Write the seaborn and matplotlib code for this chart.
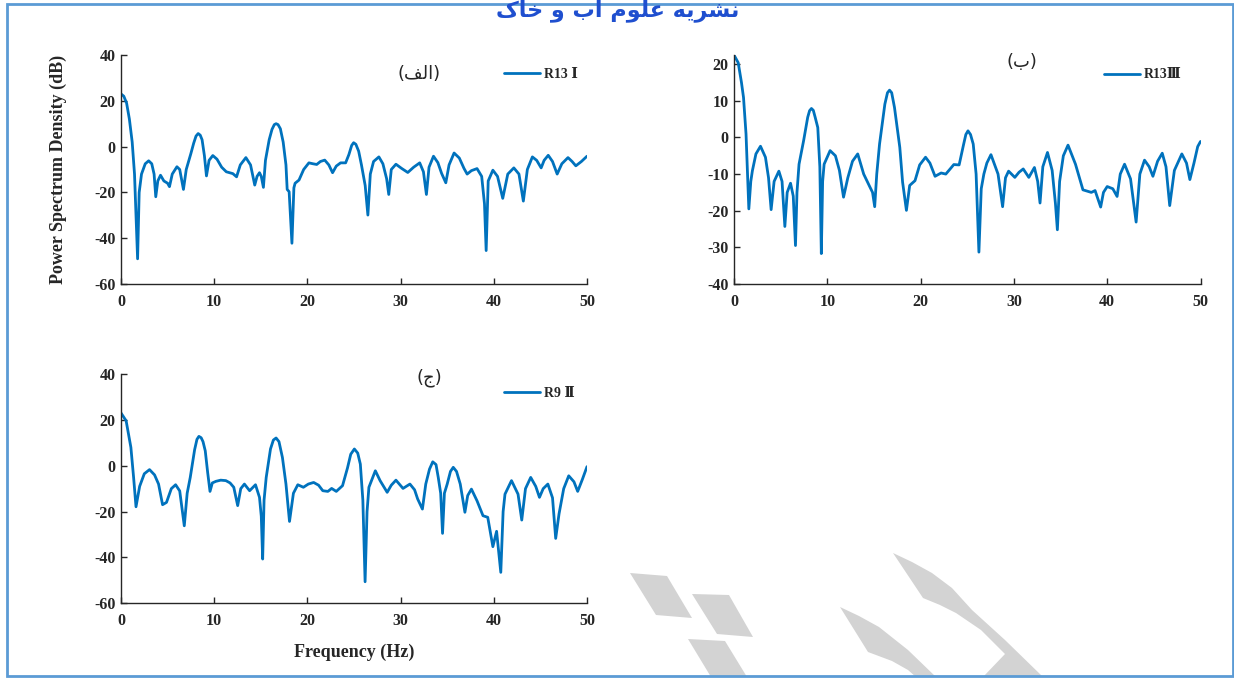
import numpy as np
import pandas as pd
import seaborn as sns
import matplotlib
matplotlib.use('Agg')
import matplotlib.pyplot as plt
from matplotlib.font_manager import FontProperties
from matplotlib.patches import Polygon, Rectangle

# Panel (a) - R13 I
freq_a = [0, 0.3, 0.6, 0.9, 1.2, 1.45, 1.78, 1.95, 2.2, 2.6, 2.97, 3.3, 3.55, 3.73,
          3.95, 4.24, 4.6, 5.0, 5.2, 5.5, 6.0, 6.3, 6.7, 7.0, 7.5, 7.8, 8.05, 8.28,
          8.5, 8.7, 8.95, 9.17, 9.45, 9.85, 10.3, 10.8, 11.3, 12.0, 12.4, 12.8,
          13.4, 13.9, 14.35, 14.6, 14.86, 15.05, 15.28, 15.5, 15.9, 16.2, 16.45,
          16.64, 16.85, 17.1, 17.4, 17.7, 17.83, 18.04, 18.34, 18.55, 18.68, 19.1,
          19.6, 20.16, 20.6, 21.0, 21.4, 21.86, 22.3, 22.7, 23.1, 23.56, 24.1,
          24.45, 24.75, 24.96, 25.2, 25.5, 25.8, 26.2, 26.49, 26.75, 27.1, 27.67,
          28.1, 28.5, 28.73, 29.0, 29.5, 30.1, 30.77, 31.4, 32.05, 32.45, 32.77,
          33.05, 33.53, 34.0, 34.4, 34.85, 35.2, 35.74, 36.3, 36.8, 37.14, 37.6,
          38.2, 38.7, 39.0, 39.18, 39.4, 39.9, 40.4, 40.96, 41.5, 42.15, 42.7,
          43.17, 43.6, 44.14, 44.6, 45.08, 45.4, 45.84, 46.3, 46.8, 47.3, 47.96,
          48.4, 48.8, 49.4, 50]
psd_a = [23, 22, 19, 12, 2, -12, -49, -20, -12, -7.5, -6.2, -7.5, -12, -21.9,
         -15, -12.5, -15, -16, -17.5, -12, -8.8, -10, -18.7, -10, -3, 1.5, 4.6, 5.7,
         5.0, 3.0, -4, -12.8, -6, -3.9, -5.5, -9, -11, -11.8, -13.2, -8,
         -4.8, -8, -16.8, -13, -11.4, -13, -17.8, -6, 3, 7.5, 9.6,
         10, 9.6, 7.8, 2, -8, -18.7, -19.7, -42.2, -18, -16, -14.6,
         -10, -7.1, -7.5, -7.8, -6.5, -5.9, -8, -11.4, -8.5, -7.1, -7.1,
         -3.5, 0.5, 1.7, 1.0, -2, -8, -17, -29.9, -12, -6.5, -4.5,
         -7.5, -14, -20.9, -10, -7.7, -9.5, -11.3, -9, -7.1, -11, -20.9,
         -9, -4.2, -7, -11.7, -15.8, -8, -2.8, -5, -9.5, -12, -10.5,
         -9.6, -13, -25, -45.4, -15, -10.3, -13, -22.6, -12, -9.3, -12,
         -23.8, -10, -4.5, -6, -9.3, -6, -3.8, -6.5, -12, -7.5, -4.8,
         -6.5, -8.4, -6.5, -4.2]

# Panel (b) - R13 III
freq_b = [0, 0.45, 0.8, 1.02, 1.29, 1.59, 1.8, 1.97, 2.35, 2.84, 3.37, 3.7, 3.98,
          4.3, 4.81, 5.15, 5.45, 5.7, 6.06, 6.35, 6.59, 6.75, 6.97, 7.46, 7.9,
          8.1, 8.3, 8.5, 8.7, 8.98, 9.2, 9.36, 9.5, 9.66, 10.3, 10.87, 11.3, 11.74,
          12.2, 12.7, 13.26, 13.9, 14.58, 14.85, 15.08, 15.3, 15.6, 16.17, 16.45,
          16.67, 16.9, 17.2, 17.77, 18.07, 18.48, 18.83, 19.4, 19.9, 20.53, 21.0,
          21.55, 22.2, 22.7, 23.2, 23.56, 24.13, 24.6, 24.85, 25.08, 25.35, 25.64,
          25.95, 26.25, 26.5, 26.78, 27.1, 27.54, 28.3, 28.79, 29.1, 29.43, 30.1,
          30.55, 31.0, 31.6, 32.2, 32.55, 32.8, 33.1, 33.6, 34.1, 34.45, 34.66,
          34.9, 35.3, 35.8, 36.6, 37.4, 38.3, 38.7, 39.3, 39.6, 40.0, 40.6, 41.06,
          41.4, 41.86, 42.5, 43.1, 43.5, 44.0, 44.5, 44.9, 45.4, 45.9, 46.3, 46.7,
          47.2, 48.0, 48.5, 48.86, 49.3, 49.7, 50]
psd_b = [22.5, 20.4, 15, 10.9, 0.9, -19.5, -12, -9.1, -4.5, -2.4, -5.4, -11, -19.7,
         -12, -9.2, -12, -24.3, -15, -12.5, -16, -29.5, -15, -7.3, -0.9, 5.5,
         7.3, 7.9, 7.4, 5.5, 2.7, -8, -31.7, -12, -7.3, -3.6, -5, -9, -16.3,
         -11, -6.5, -4.5, -10, -13.6, -15, -18.9, -10, -1.8, 9.1, 12.2,
         12.9, 12.2, 8.2, -2.7, -12.2, -19.9, -13.1, -11.8, -7.5, -5.4, -7,
         -10.6, -9.7, -10, -8.5, -7.4, -7.5, -2, 0.8, 1.8, 0.8, -1.8,
         -10, -31.3, -14, -10, -7, -4.7, -10, -18.9, -11, -9.2, -10.9,
         -9.5, -8.6, -10.9, -8.2, -12, -17.9, -8, -4.1, -9, -18, -25.2,
         -12, -5, -2.1, -7.3, -14.3, -15, -14.5, -19, -15, -13.4, -14, -16.1,
         -10, -7.3, -11.3, -23.1, -10, -6.2, -8, -10.6, -6.5, -4.3, -8, -18.6,
         -9, -4.5, -7, -11.5, -7, -2.5, -1.1]

# Panel (c) - R9 II
freq_c = [0, 0.55, 1.06, 1.35, 1.61, 2.0, 2.5, 3.06, 3.6, 4.03, 4.46, 4.88, 5.4,
          5.86, 6.3, 6.79, 7.1, 7.43, 7.9, 8.15, 8.36, 8.6, 8.8, 9.04, 9.3, 9.55,
          9.8, 10.19, 10.7, 11.25, 11.7, 12.1, 12.52, 12.85, 13.24, 13.8, 14.43,
          14.86, 15.05, 15.2, 15.35, 15.58, 16.04, 16.35, 16.64, 16.95, 17.32,
          17.7, 18.08, 18.5, 18.97, 19.57, 20.1, 20.67, 21.2, 21.65, 22.2, 22.6,
          23.1, 23.77, 24.3, 24.65, 25.04, 25.4, 25.68, 25.95, 26.19, 26.4, 26.6,
          27.29, 27.8, 28.56, 29.0, 29.5, 30.26, 31.0, 31.5, 31.83, 32.34, 32.7,
          33.1, 33.45, 33.8, 34.04, 34.3, 34.5, 34.7, 35.0, 35.35, 35.65, 36.0,
          36.4, 36.9, 37.2, 37.6, 38.2, 38.84, 39.35, 39.9, 40.3, 40.75, 41.0,
          41.2, 41.9, 42.6, 43.0, 43.4, 43.96, 44.5, 44.9, 45.3, 45.8, 46.3, 46.64,
          47.0, 47.5, 48.04, 48.6, 49.0, 49.5, 50]
psd_c = [23, 19.6, 8, -5, -17.9, -9, -3.5, -1.7, -4, -8, -17, -16, -10,
         -8.3, -11, -26.2, -12, -5.1, 7, 11.5, 12.8, 12.2, 10.5, 6.5, -3, -11.2,
         -7.5, -6.8, -6.3, -6.5, -7.5, -9.4, -17.4, -10, -8, -10.9, -8.3,
         -13.8, -22, -40.7, -15, -5.1, 7.3, 11.2, 12.1, 10.5, 3.6,
         -8, -24.3, -12, -8.3, -9.4, -8, -7.3, -8.5, -10.9, -11.2, -9.9,
         -11.2, -8.7, -1, 5, 7.3, 5.5, 0.7, -15, -50.6, -20, -9.4,
         -2.2, -6.5, -11.6, -8.5, -6.3, -9.9, -8, -10.5, -14.5, -18.9, -8,
         -1.5, 1.7, 0.5, -5.1, -12, -29.5, -12, -8, -2.5, -0.7, -2.5,
         -8, -20.3, -13, -10.2, -15.3, -21.8, -22.5, -35.3, -28.6, -46.5, -20,
         -12.4, -6.5, -12.4, -23.7, -10, -5.1, -9, -13.8, -10, -8, -14, -31.7,
         -21, -10, -4.4, -7, -11.2, -6, -0.4]

xticks = [0, 10, 20, 30, 40, 50]
yticks_ac = [-60, -40, -20, 0, 20, 40]
yticks_b = [-40, -30, -20, -10, 0, 10, 20]

legend_names = ['R13 \u2160', 'R13\u2162', 'R9 \u2161']
# Persian panel letters, written in shaped (presentation) forms, left-to-right
panel_tags = ['(\uFED2\uFEDF\uFE8D)', '(\uFE8F)', '(\uFE9D)']
journal = ('\uFB8E\uFE8E\uFEA7 \uFEED \uFE8F\uFE81 '
           '\uFEE1\uFEEE\uFEE0\uFECB \uFEEA\uFEF3\uFEAE\uFEB8\uFEE7')

sns.set_theme(style='white')
serif = ['Liberation Serif', 'DejaVu Serif', 'DejaVu Sans']
plt.rcParams['font.family'] = serif
plt.rcParams['font.weight'] = 'bold'
plt.rcParams['axes.edgecolor'] = '#262626'
plt.rcParams['axes.linewidth'] = 1.0
plt.rcParams['axes.unicode_minus'] = False

line_color = '#0072BD'

fig = plt.figure(figsize=(12.34, 6.79), dpi=100)
W, H = 1234.0, 679.0


def px_axes(x0, x1, ytop, ybot):
    return fig.add_axes([x0 / W, 1 - ybot / H, (x1 - x0) / W, (ybot - ytop) / H])


ax_a = px_axes(121, 587, 55, 284)
ax_b = px_axes(734, 1200.5, 55, 284)
ax_c = px_axes(121, 587, 374, 603.3)

panels = [
    (ax_a, freq_a, psd_a, (-60, 40), yticks_ac, (0.822, 0.915), (0.64, 0.915)),
    (ax_b, freq_b, psd_b, (-40, 22.5), yticks_b, (0.793, 0.913), (0.617, 0.97)),
    (ax_c, freq_c, psd_c, (-60, 40), yticks_ac, (0.822, 0.917), (0.662, 0.985)),
]

leg_font = FontProperties(family=serif, weight='bold', size=10)

for i, (ax, fq, pv, ylim, yt, leg_pos, tag_pos) in enumerate(panels):
    df = pd.DataFrame({'freq': fq, 'psd': pv})
    sns.lineplot(data=df, x='freq', y='psd', sort=False, estimator=None,
                 color=line_color, linewidth=2.0, ax=ax, label=legend_names[i])
    ax.set_xlim(0, 50)
    ax.set_ylim(*ylim)
    ax.set_xticks(xticks)
    ax.set_yticks(yt)
    ax.set_xlabel('')
    ax.set_ylabel('')
    for s in ['top', 'right']:
        ax.spines[s].set_visible(False)
    ax.tick_params(direction='in', length=4, width=1, labelsize=11.5,
                   colors='#262626', left=True, bottom=True)
    ax.tick_params(axis='x', pad=7)
    ax.tick_params(axis='y', pad=4)
    for lab in ax.get_xticklabels() + ax.get_yticklabels():
        lab.set_fontweight('bold')
        lab.set_color('#262626')
    ax.legend(loc='center left', bbox_to_anchor=leg_pos, frameon=False,
              borderpad=0, borderaxespad=0, handlelength=2.6,
              handletextpad=0.3, prop=leg_font)
    ax.text(tag_pos[0], tag_pos[1], panel_tags[i], transform=ax.transAxes,
            ha='center', va='center', fontsize=13, fontweight='normal',
            family=['DejaVu Sans'], color='#262626')

ax_a.set_ylabel('Power Spectrum Density (dB)', fontsize=13,
                fontweight='bold', color='#262626')
ax_a.yaxis.set_label_coords(-0.116, 0.5)
ax_c.set_xlabel('Frequency (Hz)', fontsize=13, fontweight='bold',
                color='#262626')
ax_c.xaxis.set_label_coords(0.5, -0.175)

# journal header, cut by the top of the page as in the source
fig.text(618 / W, 1 - 9 / H, journal, ha='center', va='center',
         fontsize=16, fontweight='bold', color='#1f4fcf',
         family=['DejaVu Sans'])

# page frame
fig.patches.append(Rectangle((7 / W, 1 - 676 / H), (1233 - 7) / W,
                             (676 - 4) / H, transform=fig.transFigure,
                             fill=False, edgecolor='#5b9bd5', linewidth=2))

# faint logo watermark at the bottom right
logo = [
    [(630, 573), (667, 576), (692, 618), (656, 615)],
    [(692, 594), (729, 595), (753, 637), (717, 634)],
    [(688, 639), (725, 641), (747, 677), (711, 677)],
    [(840, 607), (859, 616), (879, 627), (908, 650), (936, 677),
     (916, 677), (908, 670), (892, 661), (868, 652)],
    [(893, 553), (912, 562), (932, 573), (952, 588), (972, 610), (1005, 640),
     (1043, 677), (983, 677), (1005, 654), (981, 630), (956, 613),
     (940, 605), (923, 598)],
]
for shape in logo:
    fig.patches.append(Polygon([(x / W, 1 - y / H) for x, y in shape],
                               closed=True, transform=fig.transFigure,
                               facecolor='#d3d3d3', edgecolor='none',
                               zorder=0))

fig.savefig('out.png', dpi=100)
